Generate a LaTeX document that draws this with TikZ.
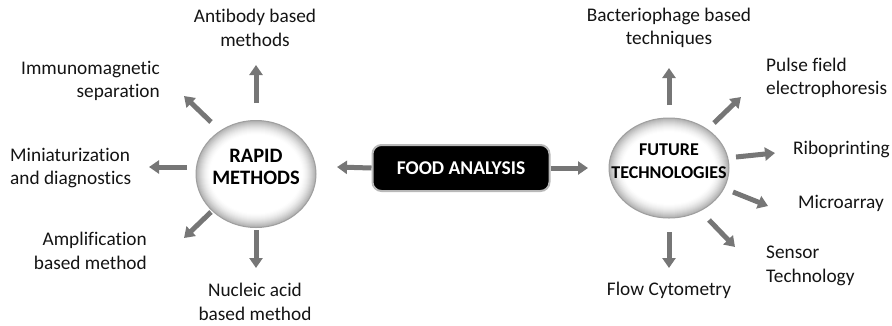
\documentclass[tikz,border=0pt]{standalone}
\usepackage{fontspec}
\setmainfont{Carlito}[Ligatures=NoCommon]
\usetikzlibrary{arrows.meta,shapes.geometric}
\definecolor{arrgray}{RGB}{118,118,118}
\definecolor{txtgray}{RGB}{20,20,20}
\begin{document}
\begin{tikzpicture}[x=1pt,y=-1pt,
  lbl/.style={font=\fontsize{19.3}{23.5}\selectfont, text=txtgray, inner sep=0pt},
  hub/.style={ellipse, minimum width=120pt, draw=gray!75, line width=1pt, inner sep=0pt},
  hubtxt/.style={align=center, text=black, inner sep=0pt},
  arr/.style={draw=arrgray, line width=5pt, -{Triangle[width=13pt,length=10pt]}},
  foodbox/.style={rounded corners=9pt, fill=black, draw=gray!55, line width=2pt, minimum width=177pt, minimum height=46pt, text=white, font=\bfseries\fontsize{19.5}{22}\selectfont}]
\useasboundingbox (0,0) rectangle (892,325);

% hubs
\coordinate (rapidc) at (256,174);
\coordinate (futurec) at (669,168);
\foreach \i in {0,...,14}{
  \pgfmathsetmacro\p{62*(1-\i/14)^1.6}
  \fill[gray!\p!white] (rapidc) ellipse [x radius=60-\i, y radius=53.5-\i];
  \fill[gray!\p!white] (futurec) ellipse [x radius=60-\i, y radius=50-\i];
}
\node[hub, minimum height=107pt] (rapid) at (rapidc) {};
\node[hubtxt, font=\bfseries\fontsize{20.5}{22}\selectfont] (rapidtxt) at (256,167) {RAPID\\METHODS};
\node[hub, minimum height=100pt] (future) at (futurec) {};
\node[hubtxt, font=\bfseries\fontsize{18}{23}\selectfont] (futuretxt) at (669,161) {FUTURE\\TECHNOLOGIES};
\node[foodbox] (food) at (461,168) {FOOD ANALYSIS};

% labels
\node[lbl, align=center] (antibody) at (255,28) {Antibody based\\methods};
\node[lbl, align=right, anchor=east] (immuno) at (160,81) {Immunomagnetic\\separation};
\node[lbl, align=left, anchor=west] (mini) at (10,168) {Miniaturization\\and diagnostics};
\node[lbl, align=right, anchor=east] (ampl) at (147,251) {Amplification\\based method};
\node[lbl, align=center] (nucleic) at (255,302) {Nucleic acid\\based method};
\node[lbl, align=center] (phage) at (669,28) {Bacteriophage based\\techniques};
\node[lbl, align=left, anchor=west] (pulse) at (766,78) {Pulse field\\electrophoresis};
\node[lbl, anchor=west] (ribo) at (793,149) {Riboprinting};
\node[lbl, anchor=west] (micro) at (798,203) {Microarray};
\node[lbl, align=left, anchor=west] (sensor) at (766,266) {Sensor\\Technology};
\node[lbl] (flow) at (669,290) {Flow Cytometry};

% arrow end points
\coordinate (r1s) at (256,103); \coordinate (r1e) at (256,65);
\coordinate (r2s) at (211,122); \coordinate (r2e) at (184,96);
\coordinate (r3s) at (187,167); \coordinate (r3e) at (149,167);
\coordinate (r4s) at (211,212); \coordinate (r4e) at (184,238);
\coordinate (r5s) at (256,230); \coordinate (r5e) at (256,268);
\coordinate (fr) at (337,167);
\coordinate (ff) at (588,168);
\coordinate (f1s) at (669,105); \coordinate (f1e) at (669,68);
\coordinate (f2s) at (714,123); \coordinate (f2e) at (741,97);
\coordinate (f3s) at (736,157); \coordinate (f3e) at (775,153);
\coordinate (f4s) at (733,192); \coordinate (f4e) at (768,206);
\coordinate (f5s) at (709,220); \coordinate (f5e) at (735,247);
\coordinate (f6s) at (669,232); \coordinate (f6e) at (669,268);

\draw[arr] (r1s) -- (r1e);
\draw[arr] (r2s) -- (r2e);
\draw[arr] (r3s) -- (r3e);
\draw[arr] (r4s) -- (r4e);
\draw[arr] (r5s) -- (r5e);
\draw[arr] (food.west) -- (fr);
\draw[arr] (food.east) -- (ff);
\draw[arr] (f1s) -- (f1e);
\draw[arr] (f2s) -- (f2e);
\draw[arr] (f3s) -- (f3e);
\draw[arr] (f4s) -- (f4e);
\draw[arr] (f5s) -- (f5e);
\draw[arr] (f6s) -- (f6e);
\end{tikzpicture}
\end{document}
